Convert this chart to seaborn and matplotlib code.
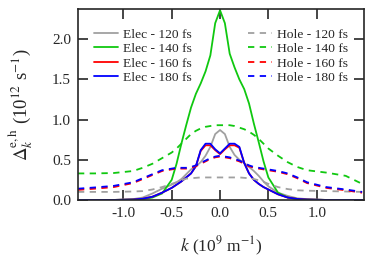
import numpy as np
import pandas as pd
import matplotlib
matplotlib.use("Agg")
import matplotlib.pyplot as plt
import seaborn as sns

# wave vector grid (10^9 m^-1)
k = [-1.47, -1.3, -1.1, -0.9, -0.8, -0.7, -0.6, -0.5, -0.45, -0.4, -0.35, -0.3,
     -0.25, -0.2, -0.15, -0.1, -0.05, 0.0, 0.05, 0.1, 0.15, 0.2, 0.25, 0.3,
     0.35, 0.4, 0.45, 0.5, 0.6, 0.7, 0.8, 0.9, 1.1, 1.3, 1.47]

# electron curves (10^12 s^-1)
elec_120 = [0, 0, 0, 0.01, 0.03, 0.08, 0.14, 0.19, 0.22, 0.26, 0.32, 0.38,
            0.42, 0.47, 0.55, 0.66, 0.82, 0.87, 0.82, 0.66, 0.56, 0.50, 0.46, 0.41,
            0.36, 0.30, 0.23, 0.17, 0.09, 0.05, 0.02, 0.01, 0, 0, 0]
elec_140 = [0, 0, 0, 0.005, 0.01, 0.03, 0.08, 0.25, 0.45, 0.70, 0.93, 1.15,
            1.32, 1.45, 1.60, 1.80, 2.20, 2.36, 2.20, 1.82, 1.65, 1.50, 1.38, 1.20,
            0.95, 0.72, 0.48, 0.28, 0.09, 0.03, 0.012, 0.005, 0, 0, 0]
elec_160 = [0, 0, 0, 0.005, 0.015, 0.04, 0.09, 0.15, 0.19, 0.23, 0.28, 0.33,
            0.42, 0.61, 0.68, 0.68, 0.62, 0.57, 0.63, 0.68, 0.68, 0.65, 0.46, 0.33,
            0.25, 0.20, 0.16, 0.13, 0.07, 0.03, 0.012, 0.005, 0, 0, 0]
elec_180 = [0, 0, 0, 0.005, 0.015, 0.04, 0.09, 0.15, 0.19, 0.23, 0.28, 0.33,
            0.42, 0.62, 0.70, 0.70, 0.63, 0.58, 0.64, 0.70, 0.70, 0.66, 0.46, 0.33,
            0.25, 0.20, 0.16, 0.13, 0.07, 0.03, 0.012, 0.005, 0, 0, 0]

# hole curves
hole_120 = [0.10, 0.10, 0.10, 0.105, 0.11, 0.13, 0.16, 0.20, 0.22, 0.245, 0.265, 0.27,
            0.275, 0.28, 0.28, 0.28, 0.28, 0.28, 0.28, 0.28, 0.28, 0.28, 0.275, 0.27,
            0.26, 0.245, 0.225, 0.20, 0.16, 0.135, 0.12, 0.115, 0.11, 0.105, 0.10]
hole_140 = [0.33, 0.33, 0.335, 0.36, 0.40, 0.45, 0.52, 0.59, 0.64, 0.70, 0.76, 0.82,
            0.86, 0.89, 0.91, 0.92, 0.93, 0.93, 0.93, 0.93, 0.92, 0.90, 0.88, 0.85,
            0.81, 0.76, 0.70, 0.64, 0.55, 0.47, 0.41, 0.37, 0.34, 0.30, 0.20]
hole_160 = [0.125, 0.14, 0.16, 0.21, 0.26, 0.31, 0.36, 0.38, 0.39, 0.39, 0.39, 0.40,
            0.42, 0.45, 0.48, 0.51, 0.53, 0.54, 0.53, 0.52, 0.50, 0.48, 0.45, 0.42,
            0.40, 0.39, 0.38, 0.37, 0.35, 0.32, 0.27, 0.21, 0.15, 0.12, 0.09]
hole_180 = [0.14, 0.155, 0.175, 0.22, 0.27, 0.32, 0.37, 0.39, 0.40, 0.40, 0.40, 0.41,
            0.43, 0.46, 0.49, 0.52, 0.54, 0.55, 0.54, 0.53, 0.51, 0.49, 0.46, 0.43,
            0.41, 0.40, 0.39, 0.38, 0.36, 0.33, 0.28, 0.22, 0.16, 0.13, 0.10]

times = ["120 fs", "140 fs", "160 fs", "180 fs"]
colors = ["#a0a0a0", "#10c810", "#ff0000", "#0000ff"]

sns.set_style("ticks")
plt.rcParams["font.family"] = ["Liberation Serif", "DejaVu Serif"]
plt.rcParams["mathtext.fontset"] = "stix"

fig = plt.figure(figsize=(3.73, 2.6), dpi=100)
ax = fig.add_axes([0.209, 0.231, 0.767, 0.734])

for vals, t, c in zip([elec_120, elec_140, elec_160, elec_180], times, colors):
    sns.lineplot(x=k, y=vals, color=c, lw=1.3, ax=ax, label="Elec - " + t)
for vals, t, c in zip([hole_120, hole_140, hole_160, hole_180], times, colors):
    sns.lineplot(x=k, y=vals, color=c, lw=1.3, ax=ax, label="Hole - " + t,
                 linestyle=(0, (3.5, 3)))

# two separate legend blocks, like the original
handles, labels = ax.get_legend_handles_labels()
leg_kw = dict(frameon=False, fontsize=9.7, handlelength=1.8, handletextpad=0.37,
              labelspacing=0.15, borderaxespad=0, borderpad=0, loc="upper left")
leg1 = ax.legend(handles[:4], labels[:4], bbox_to_anchor=(0.056, 0.9), **leg_kw)
ax.add_artist(leg1)
ax.legend(handles[4:], labels[4:], bbox_to_anchor=(0.594, 0.9), **leg_kw)

ax.set_xlim(-1.47, 1.49)
ax.set_ylim(0, 2.375)
ax.set_xticks([-1.0, -0.5, 0.0, 0.5, 1.0])
ax.set_yticks([0.0, 0.5, 1.0, 1.5, 2.0])
ax.xaxis.set_major_formatter(matplotlib.ticker.FormatStrFormatter("%.1f"))
ax.yaxis.set_major_formatter(matplotlib.ticker.FormatStrFormatter("%.1f"))
ax.tick_params(direction="in", length=7, width=1.2, labelsize=11, top=True, right=True,
               labeltop=False, labelright=False, pad=5)
for s in ax.spines.values():
    s.set_linewidth(1.2)
    s.set_visible(True)

ax.set_xlabel(r"$k$ (10$^{9}$ m$^{-1}$)", fontsize=12.5, labelpad=11)
ax.set_ylabel(r"$\Delta_k^{\mathrm{e,h}}$ (10$^{12}$ s$^{-1}$)", fontsize=13.5, labelpad=12)

fig.savefig("out.png", dpi=100)
